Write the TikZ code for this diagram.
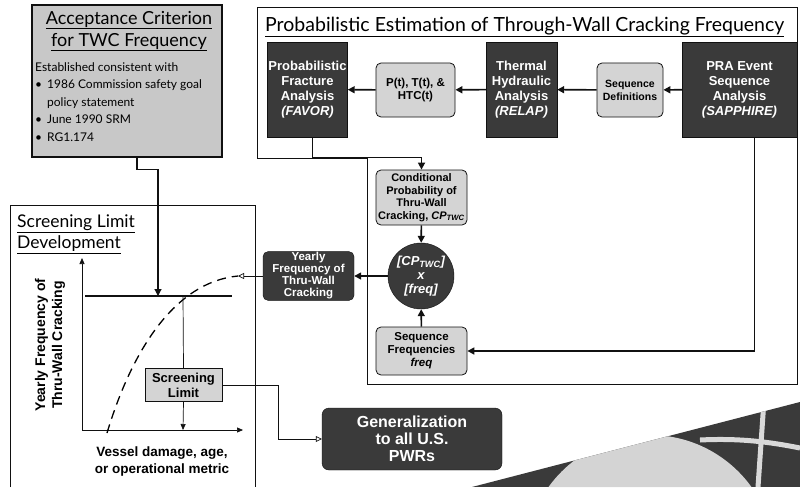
\documentclass[tikz,border=0pt]{standalone}
\usepackage{fontspec}
\setmainfont{Liberation Sans}
\newfontfamily\titlefont{Lato}
\usepackage{xcolor}
\usetikzlibrary{arrows.meta,calc}
\definecolor{ink}{HTML}{111111}
\definecolor{dark}{HTML}{3A3A3A}
\definecolor{pale}{HTML}{D4D4D4}
\definecolor{mist}{HTML}{C8C8C8}

\begin{document}
\begin{tikzpicture}[x=1pt,y=-1pt,
 dk/.style={draw=ink,fill=dark,text=white,align=center,font=\bfseries\fontsize{13}{15}\selectfont,inner sep=1pt},
 lt/.style={draw=ink,thick,fill=pale,rounded corners=5pt,align=center,font=\bfseries\fontsize{11.5}{13}\selectfont,inner sep=1pt},
 flow/.style={-{Triangle[length=7pt,width=7pt]},line width=1.6pt,draw=ink},
 thin/.style={-{Triangle[length=6pt,width=5pt]},line width=.7pt,draw=ink},
 hollow/.style={-{Triangle[open,length=6pt,width=6pt]},line width=.7pt,draw=ink},
 ttl/.style={font=\titlefont\fontsize{19.5}{23}\selectfont,inner sep=0pt}
]
\useasboundingbox (0,0) rectangle (800,487);
\fill[white] (0,0) rectangle (800,487);

% frames
\draw[line width=.8pt,ink] (257,7) -- (797,7) -- (797,384) -- (367,384) -- (367,158) -- (257,158) -- cycle;
\draw[line width=.8pt,ink] (10,487) -- (10,205) -- (255,205) -- (255,487);
\node[ttl,anchor=west] (ptitle) at (265,27) {\underline{Probabilistic Estimation of Through-Wall Cracking Frequency}};
\node[ttl,anchor=north west,align=left,font=\titlefont\fontsize{17.5}{21}\selectfont] (stitle) at (17,215) {\underline{Screening Limit}\\\underline{Development}};

% acceptance criterion
\node[draw=ink,line width=1.2pt,fill=mist,minimum width=190,minimum height=152] (acc) at (127,81) {};
\node[ttl,align=center,font=\titlefont\fontsize{18}{22}\selectfont] (acctitle) at (129,31) {\underline{Acceptance Criterion}\\\underline{for TWC Frequency}};
\node[anchor=north west,align=left,inner sep=0pt,font=\titlefont\fontsize{12}{17.5}\selectfont] (acctext) at (35,62)
 {Established consistent with\\
 \textbullet\hspace{5pt}1986 Commission safety goal\\
 \hphantom{\textbullet\hspace{5pt}}policy statement\\
 \textbullet\hspace{5pt}June 1990 SRM\\
 \textbullet\hspace{5pt}RG1.174};

% top row
\node[dk,minimum width=79,minimum height=95] (PFA) at (307.5,89.5) {Probabilistic\\Fracture\\Analysis\\\textit{(FAVOR)}};
\node[lt,minimum width=79,minimum height=54] (PTH) at (415.5,90) {P(t), T(t), \&\\HTC(t)};
\node[dk,minimum width=71,minimum height=95] (TH) at (521.5,89.5) {Thermal\\Hydraulic\\Analysis\\\textit{(RELAP)}};
\node[lt,minimum width=66,minimum height=54,font=\bfseries\fontsize{10.5}{13}\selectfont] (SD) at (630,90) {Sequence\\Definitions};
\node[dk,minimum width=115,minimum height=95] (PRA) at (739.5,89.5) {PRA Event\\Sequence\\Analysis\\\textit{(SAPPHIRE)}};

% middle column
\node[lt,minimum width=91,minimum height=55,font=\bfseries\fontsize{11}{12.5}\selectfont] (CP) at (421.5,197.5) {Conditional\\Probability of\\Thru-Wall\\Cracking, \textit{CP}\textsubscript{\textit{TWC}}};
\node[dk,circle,minimum size=66,font=\bfseries\itshape\fontsize{13}{14}\selectfont] (MUL) at (421,276) {[\textit{CP}\textsubscript{TWC}]\\x\\{[}freq]};
\node[lt,minimum width=91,minimum height=48] (SF) at (421.5,351) {Sequence\\Frequencies\\\textit{freq}};
\node[dk,rounded corners=5pt,minimum width=91,minimum height=48,font=\bfseries\fontsize{11.5}{12}\selectfont] (YF) at (308.5,276) {Yearly\\Frequency of\\Thru-Wall\\Cracking};

% screening plot
\coordinate (O) at (82,430);
\coordinate (ytop) at (82,258);
\coordinate (xend) at (243,430);
\coordinate (lim) at (183,296);
\coordinate (accin) at (158,296);
\coordinate (cend) at (238,276);
\coordinate (xfoot) at (183,430);
\draw[thin] (O) -- (ytop);
\draw[thin] (O) -- (xend);
\draw[line width=2pt,ink] (85,296) -- (232,296);
\draw[dashed,line width=1.3pt,dash pattern=on 9pt off 6pt] (107,433) .. controls (132,350) and (175,282) .. (cend);
\node[draw=ink,fill=pale,minimum width=77,minimum height=33,align=center,inner sep=1pt,font=\bfseries\fontsize{13}{15}\selectfont] (SL) at (183.5,385) {Screening\\Limit};
\node[rotate=90,align=center,font=\bfseries\fontsize{14}{17}\selectfont] (ylab) at (50,345) {Yearly Frequency of\\Thru-Wall Cracking};
\node[align=center,font=\bfseries\fontsize{13.5}{17}\selectfont] (xlab) at (162,462) {Vessel damage, age,\\or operational metric};

\node[dk,rounded corners=7pt,minimum width=180,minimum height=62,font=\bfseries\fontsize{16}{17}\selectfont] (GEN) at (412,439) {Generalization\\to all U.S.\\PWRs};

% connectors
\draw[flow] (PRA) -- (SD);
\draw[flow] (SD) -- (TH);
\draw[flow] (TH) -- (PTH);
\draw[flow] (PTH) -- (PFA);
\draw[flow] ([xshift=5]PFA.south) |- ($(CP.north)+(0,-12)$) -- (CP.north);
\draw[flow] (CP) -- (MUL);
\draw[flow] (SF) -- (MUL);
\draw[flow] ([xshift=15]PRA.south) |- (SF.east);
\draw[flow] (MUL) -- (YF);
\draw[hollow] (YF.west) -- (cend);
\draw[flow,line width=1.2pt] ([xshift=10]acc.south) -- ++(0,12) -| (accin);
\draw[line width=.7pt,ink] (lim) -- (SL.north);
\draw[thin] (SL.south) -- (xfoot);
\draw[hollow] (SL.east) -- ++(56,0) |- (GEN.west);

% corner artwork
\begin{scope}
\clip (472,487) -- (800,402) -- (800,487) -- cycle;
\fill[dark] (472,402) rectangle (800,487);
\fill[pale] (650,560) circle (125);
\draw[white!85!black,line width=5pt] (764,400) -- (758,487);
\draw[white!85!black,line width=5pt] (700,440) .. controls (740,438) and (770,442) .. (800,448);
\end{scope}
\end{tikzpicture}
\end{document}
